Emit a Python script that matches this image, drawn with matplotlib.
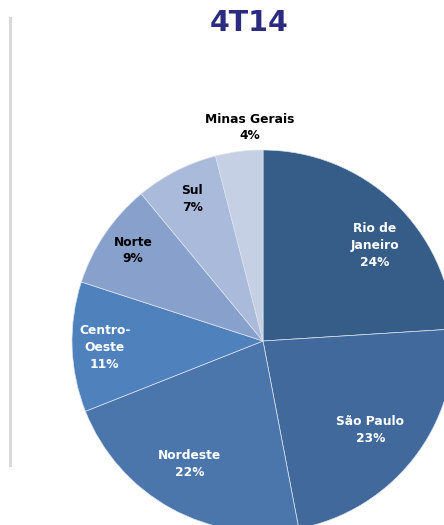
import numpy as np
import matplotlib
matplotlib.use("Agg")
import matplotlib.pyplot as plt
from matplotlib.lines import Line2D

# Share by region, 4T14
regions = ["Rio de\nJaneiro", "São Paulo", "Nordeste", "Centro-\nOeste", "Norte", "Sul", "Minas Gerais"]
shares = [24, 23, 22, 11, 9, 7, 4]
colors = ["#365C88", "#42699C", "#4A76AB", "#4F81BD", "#87A1CC", "#AABADA", "#C6D0E4"]
text_colors = ["white", "white", "white", "white", "black", "black", "black"]
title = "4T14"

# label placement: fraction of radius and angular nudge (deg) from wedge middle
label_r = [0.77, 0.73, 0.75, 0.83, 0.83, 0.83, 1.12]
label_dtheta = [-6.2, -1.9, -1.9, 0.6, -0.6, -0.5, -3.7]

W, H = 444, 525
fig = plt.figure(figsize=(W / 100, H / 100), dpi=100)
ax = fig.add_axes([0, 0, 1, 1])

cx, cy, R = 263, H - 341, 191
wedges, _ = ax.pie(shares, colors=colors, startangle=90, counterclock=False,
                   center=(cx, cy), radius=R, frame=True,
                   wedgeprops=dict(edgecolor="#DCE3EE", linewidth=0.5))
ax.set_xlim(0, W)
ax.set_ylim(0, H)
ax.set_aspect("equal")
ax.axis("off")

for w, name, pct, tc, rf, dt in zip(wedges, regions, shares, text_colors, label_r, label_dtheta):
    mid = np.deg2rad((w.theta1 + w.theta2) / 2 + dt)
    x = cx + rf * R * np.cos(mid)
    y = cy + rf * R * np.sin(mid)
    ax.text(x, y, f"{name}\n{pct}%", ha="center", va="center", color=tc,
            fontsize=8.8, fontweight="bold", linespacing=1.38)

ax.text(249, H - 23, title, ha="center", va="center", fontsize=20.5,
        fontweight="bold", color="#2B2C80")

# thin separator on the left
ax.add_line(Line2D([10, 10], [H - 18, H - 465], color="#D9D9D9", linewidth=2.2))

fig.savefig("out.png", dpi=100)
